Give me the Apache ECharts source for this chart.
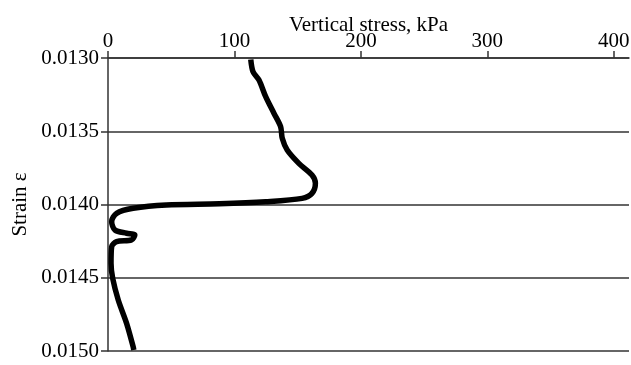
<!DOCTYPE html>
<html>
<head>
<meta charset="utf-8">
<script src="https://cdn.jsdelivr.net/npm/echarts@6/dist/echarts.min.js"></script>
<style>html,body{margin:0;padding:0;background:#fff}#c{width:631px;height:365px}</style>
</head>
<body>
<div id="c"></div>
<script>
var stressTicks = [0, 100, 200, 300, 400];
var stress = [112.9, 114.7, 119.4, 124.7, 131.2, 136.5, 137.8, 141.7, 150.9, 161.3, 164.0, 161.3, 153.5, 124.7, 88.0, 46.1, 19.9, 6.8, 2.9, 5.5, 14.7, 21.2, 18.6, 6.8, 2.9, 2.4, 3.7, 8.1, 14.7, 19.9, 20.4];
var strain = [0.01301, 0.013094, 0.01315, 0.013264, 0.013377, 0.013469, 0.013548, 0.013628, 0.013719, 0.013799, 0.013855, 0.013924, 0.013958, 0.013981, 0.013995, 0.014003, 0.014026, 0.01406, 0.014117, 0.014174, 0.014196, 0.014208, 0.014242, 0.014254, 0.014288, 0.014401, 0.014504, 0.014652, 0.014811, 0.014971, 0.014993];

var pts = stress.map(function (v, i) { return [v, strain[i]]; });
var font = 'Liberation Serif';
var chart = echarts.init(document.getElementById('c'), null, {renderer: 'canvas'});
chart.setOption({
  animation: false,
  backgroundColor: '#fff',
  grid: {left: 108, top: 58, right: 2, bottom: 14, containLabel: false, outerBoundsMode: 'none'},
  xAxis: {
    type: 'value', position: 'top', min: 0, max: 412,
    name: 'Vertical stress, kPa', nameLocation: 'middle', nameGap: 22, nameMoveOverlap: false,
    nameTextStyle: {fontFamily: font, fontSize: 21, color: '#000'},
    axisLine: {show: true, lineStyle: {color: '#333', width: 1.5}},
    axisTick: {show: true, length: 7, customValues: stressTicks, lineStyle: {color: '#333', width: 1.5}},
    axisLabel: {customValues: stressTicks, margin: 6, fontFamily: font, fontSize: 21, color: '#000'},
    splitLine: {show: false}
  },
  yAxis: {
    type: 'value', inverse: true, min: 0.013, max: 0.015, interval: 0.0005,
    name: 'Strain ε', nameLocation: 'middle', nameGap: 77, nameRotate: 90, nameMoveOverlap: false,
    nameTextStyle: {fontFamily: font, fontSize: 21, color: '#000'},
    axisLine: {show: true, lineStyle: {color: '#333', width: 1.5}},
    axisTick: {show: true, length: 7, lineStyle: {color: '#333', width: 1.5}},
    axisLabel: {margin: 9, fontFamily: font, fontSize: 21, color: '#000',
      formatter: function (v) { return v.toFixed(4); }},
    splitLine: {show: true, lineStyle: {color: '#333', width: 1.5}}
  },
  series: [{
    type: 'line', data: pts, smooth: 0.3, showSymbol: false,
    lineStyle: {color: '#000', width: 5.5}
  }]
});
</script>
</body>
</html>
